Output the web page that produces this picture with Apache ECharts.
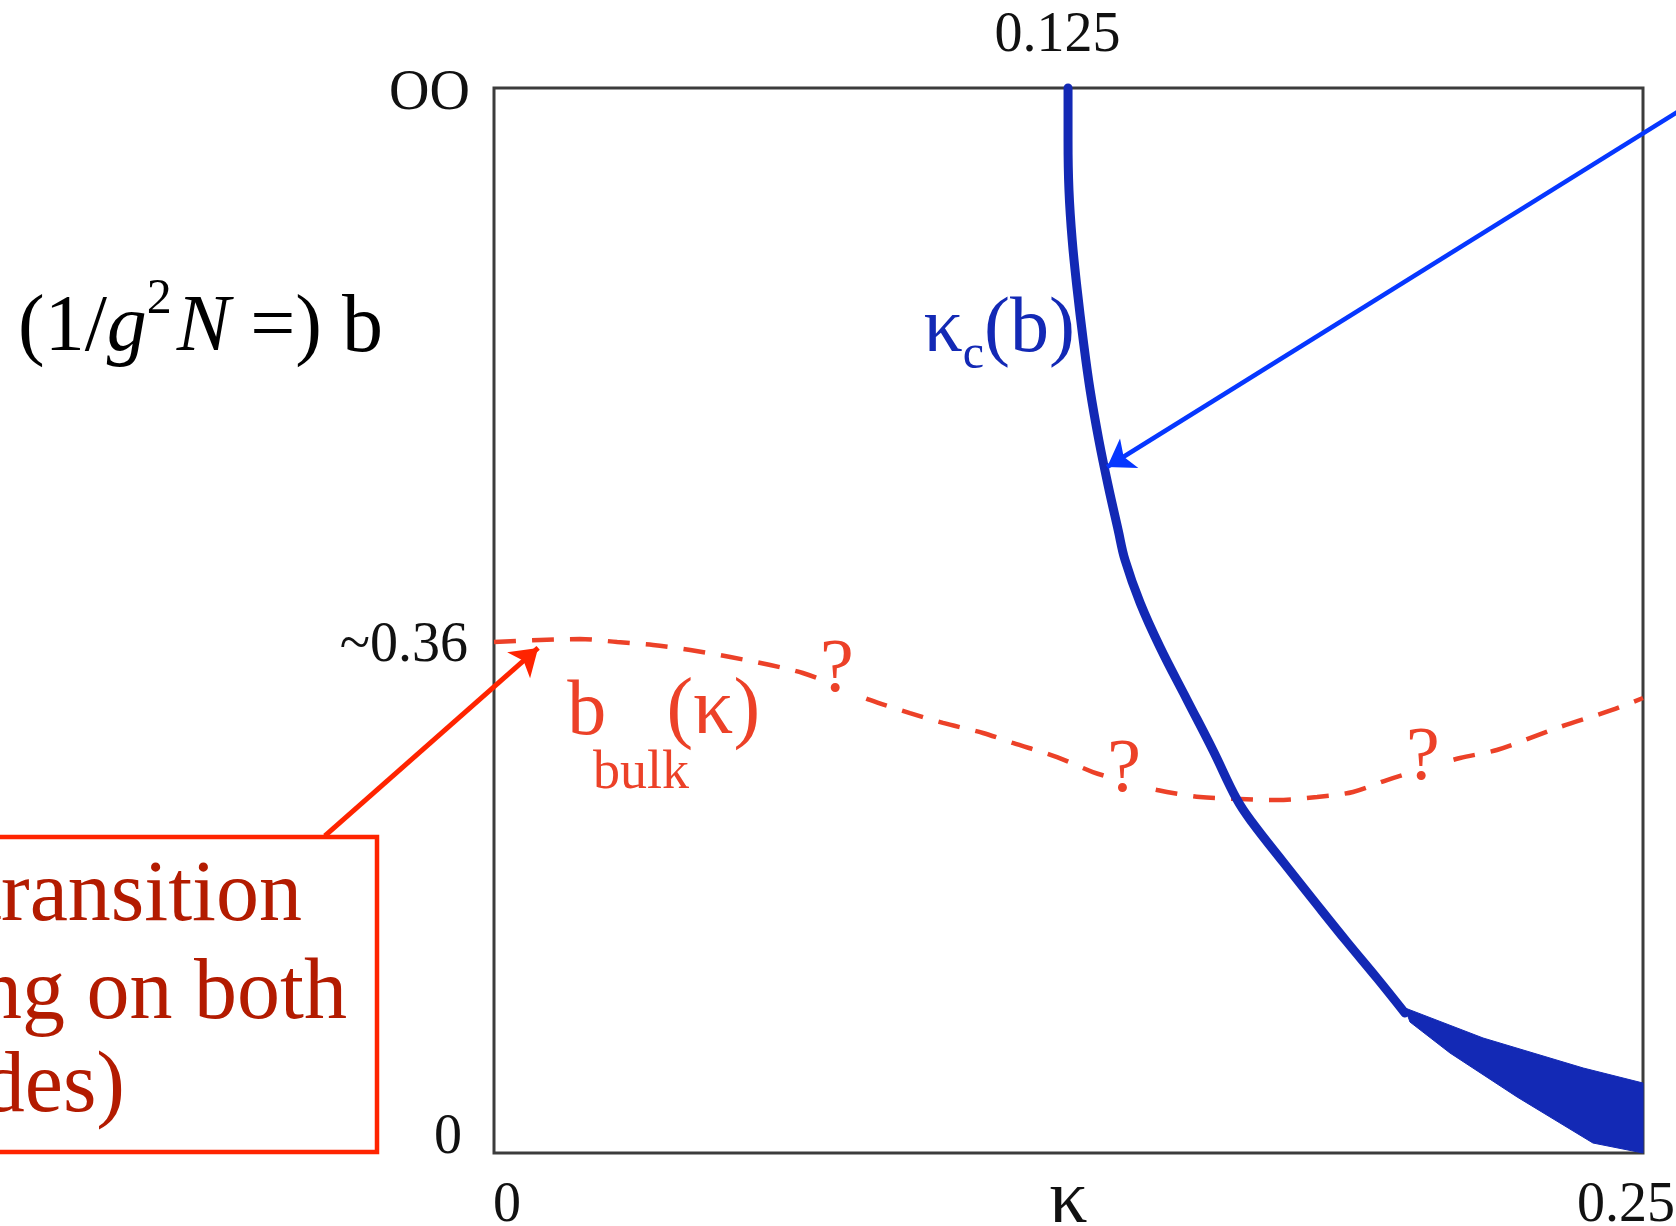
<!DOCTYPE html>
<html>
<head>
<meta charset="utf-8">
<script src="https://cdn.jsdelivr.net/npm/echarts@6/dist/echarts.min.js"></script>
<style>
  html, body { margin: 0; padding: 0; background: #ffffff; }
  #chart { width: 1676px; height: 1226px; }
</style>
</head>
<body>
<div id="chart"></div>
<script>
// Phase diagram in the (kappa, b) plane, b = 1/(g^2 N).
// The vertical axis is compactified: 0 at the bottom, b = infinity at the top,
// so vertical values below are positions along that axis (0 .. 1).

// ---- axis ticks ----
const kappaTicks = [0, 0.25];
const kappaTickLabels = ['0', '0.25'];
const kappaTopTicks = [0.125];
const kappaTopTickLabels = ['0.125'];
const bTicks = [0, 0.48, 1];
const bTickLabels = ['0', '~0.36', 'OO'];

// ---- critical line kappa_c(b): [kappa, b position] ----
const kappaC = [
  [0.1249, 1.0000], [0.1249, 0.9512], [0.1251, 0.9042], [0.1258, 0.8573],
  [0.1269, 0.8103], [0.1282, 0.7634], [0.1297, 0.7164], [0.1316, 0.6695],
  [0.1336, 0.6272], [0.1358, 0.5850], [0.1373, 0.5568], [0.1406, 0.5164],
  [0.1449, 0.4751], [0.1508, 0.4254], [0.1564, 0.3784], [0.1617, 0.3315],
  [0.1649, 0.3108], [0.1717, 0.2732], [0.1786, 0.2357], [0.1856, 0.1981],
  [0.1921, 0.1643], [0.1982, 0.1315]
];

// ---- broadened transition region at small b: upper and lower edges ----
const bandUpper = [[0.1982, 0.1362], [0.2152, 0.1080], [0.2370, 0.0798], [0.2500, 0.0657]];
const bandLower = [[0.1993, 0.1230], [0.2080, 0.0939], [0.2226, 0.0526], [0.2391, 0.0094], [0.2500, 0.0000]];

// ---- bulk transition line b_bulk(kappa) ----
const bBulk = [
  [0.0000, 0.4798], [0.0100, 0.4817], [0.0187, 0.4826], [0.0268, 0.4798],
  [0.0346, 0.4770], [0.0427, 0.4723], [0.0514, 0.4657], [0.0601, 0.4582],
  [0.0672, 0.4507], [0.0746, 0.4385], [0.0818, 0.4254], [0.0905, 0.4131],
  [0.0977, 0.4038], [0.1064, 0.3944], [0.1129, 0.3850], [0.1225, 0.3718],
  [0.1303, 0.3577], [0.1369, 0.3493], [0.1443, 0.3408], [0.1536, 0.3343],
  [0.1623, 0.3324], [0.1704, 0.3315], [0.1791, 0.3343], [0.1869, 0.3390],
  [0.1943, 0.3502], [0.2021, 0.3606], [0.2102, 0.3709], [0.2182, 0.3784],
  [0.2319, 0.4000], [0.2433, 0.4160], [0.2500, 0.4272]
];

// question marks sitting on the bulk line
const bulkQuestionMarks = [[0.0746, 0.4526], [0.1371, 0.3587], [0.2021, 0.3700]];

// arrows: [start, tip]
const arrowToKappaC = [[0.2624, 0.9906], [0.1334, 0.6441]];
const arrowToBulk = [[-0.0368, 0.2977], [0.0096, 0.4742]];

// ---- styling ----
const SERIF = '"Liberation Serif", "DejaVu Serif", serif';
const BLUE = '#1329b5';
const ARROW_BLUE = '#0637ff';
const BULK_RED = '#ec4128';
const BOX_RED = '#ff2400';
const BOX_TEXT = '#b31b00';
const INK = '#111111';

const chart = echarts.init(document.getElementById('chart'), null, { renderer: 'canvas' });

// tick labels, placed through the axes' scales
const tickItems = [];
const yOffsets = [-15, 4, 6];
const yDist = [32, 26, 24];
bTicks.forEach((b, i) => tickItems.push({
  value: [0, b],
  label: { formatter: bTickLabels[i], position: 'left', distance: yDist[i], offset: [0, yOffsets[i]] }
}));
const xOffsets = [13, -17];
kappaTicks.forEach((k, i) => tickItems.push({
  value: [k, 0],
  label: { formatter: kappaTickLabels[i], position: [xOffsets[i], 53], align: 'center', verticalAlign: 'middle' }
}));
kappaTopTicks.forEach((k, i) => tickItems.push({
  value: [k, 1],
  label: { formatter: kappaTopTickLabels[i], position: [-11, -52], align: 'center', verticalAlign: 'middle' }
}));

// curve annotations
const curveLabels = [
  { value: [0.1264, 0.7720], label: {
      formatter: '{k|κ}{c|c}{k|(b)}', position: [0, 0], align: 'right', verticalAlign: 'middle',
      rich: {
        k: { fontFamily: SERIF, fontSize: 78, color: BLUE },
        c: { fontFamily: SERIF, fontSize: 48, color: BLUE, padding: [50, 0, 0, 0] }
      } } },
  { value: [0.0202, 0.4122], label: { formatter: 'b', position: [0, 0], align: 'center', verticalAlign: 'middle',
      fontFamily: SERIF, fontSize: 78, color: BULK_RED } },
  { value: [0.0477, 0.4141], label: { formatter: '(κ)', position: [0, 0], align: 'center', verticalAlign: 'middle',
      fontFamily: SERIF, fontSize: 80, color: BULK_RED } },
  { value: [0.0320, 0.3560], label: { formatter: 'bulk', position: [0, 0], align: 'center', verticalAlign: 'middle',
      fontFamily: SERIF, fontSize: 54, color: BULK_RED } }
];

const option = {
  animation: false,
  backgroundColor: '#ffffff',
  grid: {
    left: 494, right: 33, top: 88, bottom: 73, containLabel: false, outerBoundsMode: 'none',
    show: true, borderColor: '#3c3c3c', borderWidth: 3
  },
  xAxis: {
    type: 'value', min: 0, max: 0.25, interval: 0.25,
    axisLine: { show: false }, axisTick: { show: false }, axisLabel: { show: false }, splitLine: { show: false },
    name: 'κ', nameLocation: 'middle', nameGap: 11,
    nameTextStyle: { fontFamily: SERIF, fontSize: 76, color: INK, verticalAlign: 'top' }
  },
  yAxis: {
    type: 'value', min: 0, max: 1, interval: 0.5,
    axisLine: { show: false }, axisTick: { show: false }, axisLabel: { show: false }, splitLine: { show: false }
  },
  graphic: [
    { // vertical axis title
      type: 'text', z: 10,
      style: {
        x: 18, y: 329, verticalAlign: 'middle', align: 'left',
        text: '{n|(1/}{i|g}{s|2}{i|N}{n| =) }{b|b}',
        rich: {
          n: { fontFamily: SERIF, fontSize: 80, color: INK },
          i: { fontFamily: SERIF, fontSize: 80, fontStyle: 'italic', color: INK },
          s: { fontFamily: SERIF, fontSize: 50, color: INK, padding: [0, 5, 58, 0] },
          b: { fontFamily: SERIF, fontSize: 82, color: '#2a2210' }
        }
      }
    },
    { // callout box
      type: 'rect', z: 10,
      shape: { x: -10, y: 837, width: 387, height: 315 },
      style: { fill: 'none', stroke: BOX_RED, lineWidth: 4.5 }
    },
    { type: 'text', z: 10, style: { x: 302, y: 897, align: 'right', verticalAlign: 'middle',
        text: 'transition', fontFamily: SERIF, fontSize: 86, fill: BOX_TEXT } },
    { type: 'text', z: 10, style: { x: 347, y: 995, align: 'right', verticalAlign: 'middle',
        text: 'ing on both', fontFamily: SERIF, fontSize: 86, fill: BOX_TEXT } },
    { type: 'text', z: 10, style: { x: 125, y: 1088, align: 'right', verticalAlign: 'middle',
        text: 'sides)', fontFamily: SERIF, fontSize: 86, fill: BOX_TEXT } }
  ],
  series: [
    { // bulk transition, dashed
      type: 'line', name: 'b_bulk', data: bBulk, smooth: 0.3, symbol: 'none', clip: false, z: 3,
      lineStyle: { color: BULK_RED, width: 4.5, type: [22, 16] }
    },
    { // kappa_c(b)
      type: 'line', name: 'kappa_c', data: kappaC, smooth: 0.4, symbol: 'none', clip: false, z: 4,
      lineStyle: { color: BLUE, width: 9, cap: 'round', join: 'round' }
    },
    { // widened region at small b
      type: 'custom', name: 'kappa_c band', clip: false, z: 4, data: [[0, 0]],
      renderItem: function (params, api) {
        const pts = bandUpper.concat(bandLower.slice().reverse()).map(p => api.coord(p));
        return { type: 'polygon', shape: { points: pts }, style: { fill: BLUE, stroke: BLUE, lineWidth: 1, lineJoin: 'round' } };
      }
    },
    { // question marks
      type: 'scatter', name: 'question', data: bulkQuestionMarks, symbolSize: 0, z: 5, silent: true,
      itemStyle: { opacity: 1 },
      label: { show: true, formatter: '?', position: [0, 0], align: 'center', verticalAlign: 'middle',
        fontFamily: SERIF, fontSize: 76, color: BULK_RED, backgroundColor: '#ffffff', padding: [0, 2] }
    },
    { // curve names
      type: 'scatter', name: 'curve labels', data: curveLabels, symbolSize: 0, z: 6, silent: true,
      itemStyle: { opacity: 1 },
      label: { show: true }
    },
    { // tick labels
      type: 'scatter', name: 'ticks', data: tickItems, symbolSize: 0, z: 6, silent: true,
      itemStyle: { opacity: 1 },
      label: { show: true, fontFamily: SERIF, fontSize: 56, color: INK }
    },
    { // arrows
      type: 'lines', name: 'arrows', coordinateSystem: 'cartesian2d', clip: false, silent: true, z: 7,
      symbol: ['none', 'arrow'], symbolSize: [20, 26],
      lineStyle: { opacity: 1, curveness: 0 },
      data: [
        { coords: arrowToKappaC, lineStyle: { color: ARROW_BLUE, width: 4.5 } },
        { coords: arrowToBulk, lineStyle: { color: BOX_RED, width: 5 } }
      ]
    }
  ]
};

chart.setOption(option);
</script>
</body>
</html>
